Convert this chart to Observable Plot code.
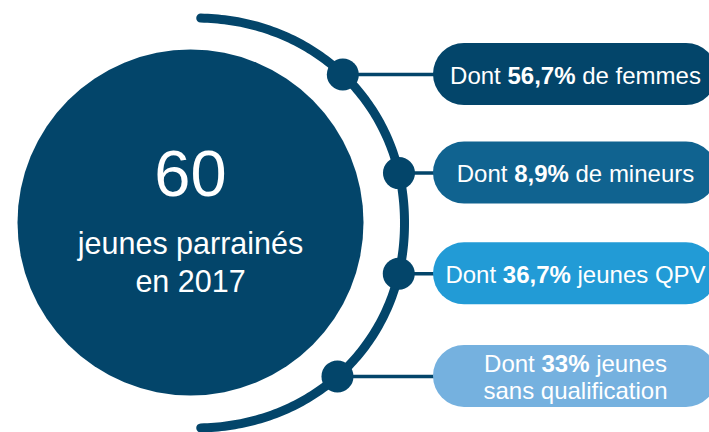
<!DOCTYPE html>
<html><head><meta charset="utf-8">
<script src="https://cdn.jsdelivr.net/npm/d3@7"></script>
<script src="https://cdn.jsdelivr.net/npm/@observablehq/plot@0.6"></script>
<style>html,body{margin:0;padding:0;background:#fff;overflow:hidden}</style>
</head><body><div id="chart"></div>
<script>
// ---- data ----
const total = 60;
const totalLabel = "jeunes parrainés";
const year = 2017;
const prefixes = ["Dont", "Dont", "Dont", "Dont"];
const shares = [56.7, 8.9, 36.7, 33];
const categories = ["de femmes", "de mineurs", "jeunes QPV", "jeunes\nsans qualification"];

// ---- layout / style ----
const W = 709, H = 432;
const C = {x: 190, y: 222, r: 173};
const ARC = {cx: 194, cy: 222.5, a: 210, b: 205, n: 2.07, start: -88.5, end: 88.5};
const dotAngles = [-45.75, -13.4, 13.65, 47.8];
const pill = {x1: 433, x2: 717, h: 62};
const pillColors = ["#03456a", "#106390", "#229bd6", "#75b1df"];
const navy = "#03456a";
const font = "'Liberation Sans', Arial, Helvetica, sans-serif";

const fmt = v => String(v).replace(".", ",") + "%";
const rad = d => d * Math.PI / 180;
const se = t => {
  const c = Math.cos(rad(t)), s = Math.sin(rad(t));
  return {
    x: ARC.cx + ARC.a * Math.sign(c) * Math.abs(c) ** (2 / ARC.n),
    y: ARC.cy + ARC.b * Math.sign(s) * Math.abs(s) ** (2 / ARC.n)
  };
};
const arcPts = d3.range(0, 201).map(i => se(ARC.start + (ARC.end - ARC.start) * i / 200));
const rows = shares.map((v, i) => {
  const p = se(dotAngles[i]);
  return {x: p.x, y: p.y, text: `${prefixes[i]} ${fmt(v)} ${categories[i]}`, color: pillColors[i]};
});

const plot = Plot.plot({
  width: W, height: H, margin: 0,
  x: {domain: [0, W], range: [0, W], axis: null},
  y: {domain: [0, H], range: [0, H], axis: null},
  color: {type: "identity"},
  style: {background: "#fff", overflow: "hidden", fontFamily: font},
  marks: [
    Plot.line(arcPts, {x: "x", y: "y", stroke: navy, strokeWidth: 9, strokeLinecap: "round"}),
    Plot.dot([C], {x: "x", y: "y", r: C.r, fill: navy, stroke: "none"}),
    Plot.ruleY(rows, {y: "y", x1: "x", x2: pill.x1 + 6, stroke: navy, strokeWidth: 3.5}),
    Plot.rect(rows, {x1: pill.x1, x2: pill.x2, y1: d => d.y - pill.h / 2, y2: d => d.y + pill.h / 2, fill: "color", rx: pill.h / 2}),
    Plot.dot(rows, {x: "x", y: "y", r: 16, fill: navy, stroke: "none"}),
    Plot.text(rows, {x: (pill.x1 + pill.x2) / 2, y: "y", text: "text", fill: "white", fontSize: 24, lineHeight: 1.12, dy: 0.4, fontFamily: font}),
    Plot.text([total], {x: C.x, y: 174.2, text: d => String(d), fill: "white", fontSize: 65, fontFamily: font}),
    Plot.text([`${totalLabel}\nen ${year}`], {x: C.x, y: 260.8, text: d => d, fill: "white", fontSize: 30.5, lineHeight: 1.245, fontFamily: font})
  ]
});

// bold the percentages
const re = /(\d+(?:,\d+)?%)/;
plot.querySelectorAll("text, tspan").forEach(el => {
  if (el.children.length) return;
  const s = el.textContent;
  if (!re.test(s)) return;
  const parts = s.split(re);
  el.textContent = "";
  parts.forEach((p, k) => {
    if (!p) return;
    const t = document.createElementNS("http://www.w3.org/2000/svg", "tspan");
    t.textContent = p;
    if (k % 2 === 1) t.setAttribute("font-weight", "bold");
    el.appendChild(t);
  });
});

document.getElementById("chart").appendChild(plot);
</script>
</body></html>
